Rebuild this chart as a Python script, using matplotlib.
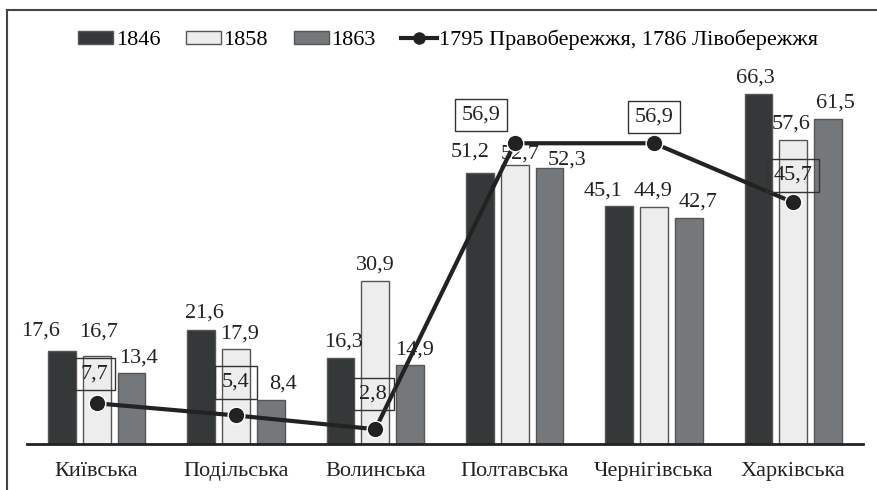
import numpy as np
import matplotlib.pyplot as plt
from matplotlib.lines import Line2D

plt.rcParams['font.family'] = ['Liberation Serif', 'DejaVu Serif']

regions = ['Київська', 'Подільська', 'Волинська', 'Полтавська', 'Чернігівська', 'Харківська']
years = ['1846', '1858', '1863']
v1846 = [17.6, 21.6, 16.3, 51.2, 45.1, 66.3]
v1858 = [16.7, 17.9, 30.9, 52.7, 44.9, 57.6]
v1863 = [13.4, 8.4, 14.9, 52.3, 42.7, 61.5]
early = [7.7, 5.4, 2.8, 56.9, 56.9, 45.7]
early_label = '1795 Правобережжя, 1786 Лівобережжя'

colors = ['#353839', '#ededed', '#75787a']

# hand nudges (pixels) for the bar value labels so they don't collide
nudge_x = [[-21, 3, 3, -10, -16, -3],
           [2, 4, 0, 5, -1, -2],
           [7, 12, 4, 18, 9, 7]]
nudge_y = [[15, 12, 11, 17, 10, 11],
           [19, 11, 11, 7, 11, 11],
           [11, 11, 11, 3, 12, 11]]

fig = plt.figure(figsize=(8.78, 4.90), dpi=100)
ax = fig.add_axes([27 / 878, 1 - 444 / 490, 836 / 878, 370 / 490])

x = np.arange(len(regions))
w = 0.2
for i, (vals, c) in enumerate(zip([v1846, v1858, v1863], colors)):
    pos = x + (i - 1) * 0.25
    ax.bar(pos, vals, width=w, color=c, edgecolor='#555555', linewidth=1,
           label=years[i], zorder=2)
    for j, (xp, v) in enumerate(zip(pos, vals)):
        ax.annotate(f'{v:.1f}'.replace('.', ','), (xp, v),
                    xytext=(nudge_x[i][j], nudge_y[i][j]),
                    textcoords='offset pixels', ha='center', va='baseline',
                    fontsize=16, color='#222222', zorder=3)

ax.plot(x, early, color='#222222', linewidth=3, marker='o', markersize=12,
        markerfacecolor='#222222', markeredgecolor='white', markeredgewidth=1,
        zorder=5)

# label boxes sit above each point, Poltava one shifted left
shifts = [(-2, 29), (0, 33), (-2, 35), (-34, 28), (0, 26), (0, 27)]
for xp, v, (dx, dy) in zip(x, early, shifts):
    ax.annotate(f'{v:.1f}'.replace('.', ','), (xp, v), xytext=(dx, dy),
                textcoords='offset pixels', ha='center', va='center',
                fontsize=16, color='#222222', zorder=6,
                bbox=dict(boxstyle='square,pad=0.3', fc='none', ec='#333333', lw=1))

ax.set_xlim(-0.5, len(regions) - 0.5)
ax.set_ylim(0, 70)
ax.set_xticks(x)
ax.set_xticklabels(regions, fontsize=16, color='#222222')
ax.tick_params(axis='x', length=0, pad=13)
ax.set_yticks([])
for s in ['top', 'right', 'left']:
    ax.spines[s].set_visible(False)
ax.spines['bottom'].set_linewidth(2)
ax.spines['bottom'].set_color('#222222')

handles, labels = ax.get_legend_handles_labels()
handles.append(Line2D([], [], color='#222222', linewidth=3, marker='o',
                      markersize=8))
labels.append(early_label)
fig.legend(handles, labels, loc='center', bbox_to_anchor=(448 / 878, 1 - 40 / 490),
           ncol=4, frameon=False, fontsize=16, handlelength=1.6, handleheight=0.5,
           handletextpad=0.1, columnspacing=1.15)

# outer frame: top and left edges
fig.add_artist(Line2D([7 / 878, 7 / 878], [0, 1 - 10 / 490], transform=fig.transFigure,
                      color='#444444', linewidth=1.5))
fig.add_artist(Line2D([7 / 878, 1], [1 - 10 / 490, 1 - 10 / 490], transform=fig.transFigure,
                      color='#444444', linewidth=1.5))

fig.savefig('out.png', dpi=100, facecolor='white')
